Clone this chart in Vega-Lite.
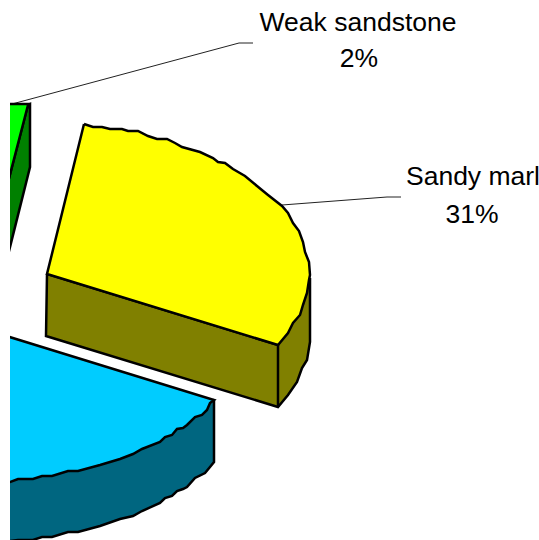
{"$schema":"https://vega.github.io/schema/vega-lite/v6.json","width":529,"height":540,"padding":{"left":10,"top":0,"right":0,"bottom":0},"autosize":"none","background":"white","view":{"stroke":null},
"datasets":{
"greenSide":[{"i":0,"x":28,"y":105},{"i":1,"x":30,"y":104},{"i":2,"x":30,"y":167},{"i":3,"x":0,"y":287},{"i":4,"x":0,"y":213},{"i":5,"x":28,"y":105}],
"greenTop":[{"i":0,"x":0,"y":104},{"i":1,"x":30,"y":104},{"i":2,"x":28,"y":105},{"i":3,"x":0,"y":213},{"i":4,"x":0,"y":104}],
"yellowSide":[{"i":0,"x":47,"y":274},{"i":1,"x":278,"y":345},{"i":2,"x":310,"y":278},{"i":3,"x":310,"y":342},{"i":4,"x":307,"y":360},{"i":5,"x":302,"y":368},{"i":6,"x":297,"y":382},{"i":7,"x":288,"y":395},{"i":8,"x":278,"y":407},{"i":9,"x":46,"y":336},{"i":10,"x":47,"y":274}],
"yellowEdge":[{"i":0,"x":278,"y":345},{"i":1,"x":278,"y":407}],
"yellowTop":[{"i":0,"x":84,"y":124},{"i":1,"x":93,"y":127},{"i":2,"x":102,"y":127},{"i":3,"x":110,"y":129},{"i":4,"x":122,"y":129},{"i":5,"x":128,"y":131},{"i":6,"x":138,"y":131},{"i":7,"x":148,"y":136},{"i":8,"x":157,"y":139},{"i":9,"x":167,"y":139},{"i":10,"x":175,"y":143},{"i":11,"x":182,"y":147},{"i":12,"x":200,"y":152},{"i":13,"x":213,"y":158},{"i":14,"x":218,"y":162},{"i":15,"x":225,"y":163},{"i":16,"x":233,"y":169},{"i":17,"x":245,"y":176},{"i":18,"x":257,"y":186},{"i":19,"x":268,"y":195},{"i":20,"x":282,"y":206},{"i":21,"x":288,"y":213},{"i":22,"x":293,"y":223},{"i":23,"x":299,"y":231},{"i":24,"x":303,"y":242},{"i":25,"x":305,"y":252},{"i":26,"x":309,"y":262},{"i":27,"x":310,"y":275},{"i":28,"x":309,"y":280},{"i":29,"x":307,"y":293},{"i":30,"x":303,"y":305},{"i":31,"x":300,"y":315},{"i":32,"x":293,"y":323},{"i":33,"x":288,"y":333},{"i":34,"x":278,"y":345},{"i":35,"x":47,"y":274},{"i":36,"x":84,"y":124}],
"blueSide":[{"i":0,"x":214,"y":400},{"i":1,"x":214,"y":462},{"i":2,"x":210,"y":467},{"i":3,"x":205,"y":473},{"i":4,"x":195,"y":478},{"i":5,"x":187,"y":487},{"i":6,"x":183,"y":489},{"i":7,"x":177,"y":491},{"i":8,"x":172,"y":496},{"i":9,"x":165,"y":498},{"i":10,"x":160,"y":503},{"i":11,"x":142,"y":511},{"i":12,"x":133,"y":516},{"i":13,"x":120,"y":519},{"i":14,"x":100,"y":526},{"i":15,"x":78,"y":532},{"i":16,"x":68,"y":532},{"i":17,"x":52,"y":537},{"i":18,"x":42,"y":537},{"i":19,"x":33,"y":540},{"i":20,"x":18,"y":540},{"i":21,"x":0,"y":542},{"i":22,"x":0,"y":482},{"i":23,"x":214,"y":400}],
"blueTop":[{"i":0,"x":0,"y":334},{"i":1,"x":214,"y":400},{"i":2,"x":210,"y":403},{"i":3,"x":207,"y":410},{"i":4,"x":202,"y":415},{"i":5,"x":195,"y":417},{"i":6,"x":187,"y":425},{"i":7,"x":183,"y":428},{"i":8,"x":177,"y":429},{"i":9,"x":172,"y":435},{"i":10,"x":165,"y":437},{"i":11,"x":160,"y":442},{"i":12,"x":142,"y":449},{"i":13,"x":133,"y":454},{"i":14,"x":120,"y":459},{"i":15,"x":100,"y":465},{"i":16,"x":78,"y":471},{"i":17,"x":68,"y":471},{"i":18,"x":52,"y":476},{"i":19,"x":42,"y":476},{"i":20,"x":33,"y":479},{"i":21,"x":18,"y":479},{"i":22,"x":10,"y":482},{"i":23,"x":0,"y":483},{"i":24,"x":0,"y":334}],
"leaderA":[{"i":0,"x":12,"y":104},{"i":1,"x":239,"y":43},{"i":2,"x":253,"y":43}],
"leaderB":[{"i":0,"x":282,"y":205},{"i":1,"x":387,"y":197},{"i":2,"x":401,"y":197}],
"labels":[{"t":"Weak sandstone","x":358,"y":31},{"t":"2%","x":359,"y":67},{"t":"Sandy marl","x":473,"y":185},{"t":"31%","x":472,"y":223}]
},
"encoding":{"x":{"field":"x","type":"quantitative","scale":{"domain":[10,539]},"axis":null},"y":{"field":"y","type":"quantitative","scale":{"domain":[0,540],"reverse":true},"axis":null},"order":{"field":"i","type":"quantitative"}},
"layer":[
{"data":{"name":"leaderA"},"mark":{"type":"line","stroke":"#222","strokeWidth":1,"clip":true}},
{"data":{"name":"leaderB"},"mark":{"type":"line","stroke":"#222","strokeWidth":1,"clip":true}},
{"data":{"name":"greenSide"},"mark":{"type":"line","fill":"#008000","stroke":"black","strokeWidth":2.5,"clip":true}},
{"data":{"name":"greenTop"},"mark":{"type":"line","fill":"#00ff00","stroke":"black","strokeWidth":2.5,"clip":true}},
{"data":{"name":"yellowSide"},"mark":{"type":"line","fill":"#808000","stroke":"black","strokeWidth":2.5,"clip":true}},
{"data":{"name":"yellowEdge"},"mark":{"type":"line","stroke":"black","strokeWidth":2.5,"clip":true}},
{"data":{"name":"yellowTop"},"mark":{"type":"line","fill":"#ffff00","stroke":"black","strokeWidth":2.5,"clip":true}},
{"data":{"name":"blueSide"},"mark":{"type":"line","fill":"#006680","stroke":"black","strokeWidth":2.5,"clip":true}},
{"data":{"name":"blueTop"},"mark":{"type":"line","fill":"#00ccff","stroke":"black","strokeWidth":2.5,"clip":true}},
{"data":{"name":"labels"},"mark":{"type":"text","font":"Liberation Sans","fontSize":26.5,"fill":"black","baseline":"alphabetic","align":"center"},"encoding":{"text":{"field":"t"},"order":null}}
]}
